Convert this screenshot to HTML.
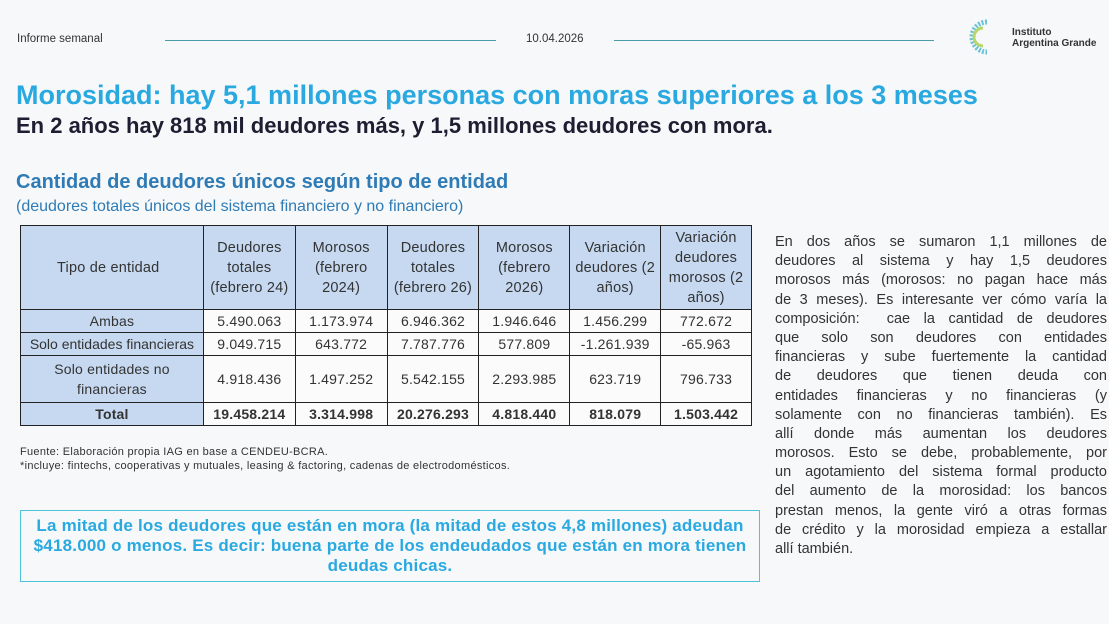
<!DOCTYPE html>
<html><head><meta charset="utf-8"><style>
body{margin:0;width:1109px;height:624px;background:#f7f8fa;font-family:"Liberation Sans",sans-serif;position:relative;overflow:hidden;color:#222}
.a{position:absolute}
table{border-collapse:collapse;position:absolute;left:20px;top:225px;width:732px;font-size:14px;color:#333;letter-spacing:0.2px}
td{border:1.5px solid #222;text-align:center;padding:0;line-height:20px}
.h td{background:#c6d9f1;font-size:14.5px}
td.f{background:#c6d9f1}
.d td{background:#fbfbfb}
.d td.f{background:#c6d9f1}
.p div{text-align:justify;text-align-last:justify;height:19.2px;white-space:nowrap}
</style></head><body>
<div class="a" style="left:17px;top:33px;font-size:11.5px;color:#333">Informe semanal</div>
<div class="a" style="left:165px;top:40px;width:331px;height:1px;background:#4a9aa8"></div>
<div class="a" style="left:526px;top:33px;font-size:11.5px;color:#333">10.04.2026</div>
<div class="a" style="left:614px;top:40px;width:320px;height:1px;background:#4a9aa8"></div>
<svg class="a" style="left:965px;top:18px" width="36" height="38"><path d="M22 4 A15 15 0 1 0 22 34" fill="none" stroke="#6cc3d6" stroke-width="5" stroke-dasharray="2 1.5"/><path d="M18 10 A9 9 0 0 0 18 28" fill="none" stroke="#b8d66a" stroke-width="3"/></svg>
<div class="a" style="left:1012px;top:27px;font-size:10px;line-height:11px;color:#333;font-weight:bold">Instituto<br>Argentina Grande</div>
<div class="a" style="left:16px;top:80px;font-size:27px;font-weight:bold;color:#29a9e0;white-space:nowrap">Morosidad: hay 5,1 millones personas con moras superiores a los 3 meses</div>
<div class="a" style="left:16px;top:113px;font-size:22px;font-weight:bold;color:#1e1e32;white-space:nowrap">En 2 años hay 818 mil deudores más, y 1,5 millones deudores con mora.</div>
<div class="a" style="left:16px;top:171px;font-size:20px;font-weight:bold;color:#2e7bb5;white-space:nowrap">Cantidad de deudores únicos según tipo de entidad</div>
<div class="a" style="left:16px;top:198px;font-size:16px;color:#2e7bb5;white-space:nowrap">(deudores totales únicos del sistema financiero y no financiero)</div>
<table>
<colgroup><col style="width:183px"><col style="width:92px"><col style="width:92px"><col style="width:92px"><col style="width:91px"><col style="width:91px"><col style="width:91px"></colgroup>
<tr class="h" style="height:84px"><td class="f" style="text-align:left;padding-left:36px">Tipo de entidad</td><td>Deudores<br>totales<br>(febrero 24)</td><td>Morosos<br>(febrero<br>2024)</td><td>Deudores<br>totales<br>(febrero 26)</td><td>Morosos<br>(febrero<br>2026)</td><td>Variación<br>deudores (2<br>años)</td><td>Variación<br>deudores<br>morosos (2<br>años)</td></tr>
<tr class="d" style="height:23px"><td class="f">Ambas</td><td>5.490.063</td><td>1.173.974</td><td>6.946.362</td><td>1.946.646</td><td>1.456.299</td><td>772.672</td></tr>
<tr class="d" style="height:23px"><td class="f" style="white-space:nowrap;letter-spacing:0">Solo entidades financieras</td><td>9.049.715</td><td>643.772</td><td>7.787.776</td><td>577.809</td><td>-1.261.939</td><td>-65.963</td></tr>
<tr class="d" style="height:47px"><td class="f">Solo entidades no<br>financieras</td><td>4.918.436</td><td>1.497.252</td><td>5.542.155</td><td>2.293.985</td><td>623.719</td><td>796.733</td></tr>
<tr class="d" style="height:23px;font-weight:bold"><td class="f">Total</td><td>19.458.214</td><td>3.314.998</td><td>20.276.293</td><td>4.818.440</td><td>818.079</td><td>1.503.442</td></tr>
</table>
<div class="a" style="left:20px;top:445px;font-size:11px;line-height:14px;color:#333;white-space:nowrap;letter-spacing:0.3px">Fuente: Elaboración propia IAG en base a CENDEU-BCRA.<br>*incluye: fintechs, cooperativas y mutuales, leasing &amp; factoring, cadenas de electrodomésticos.</div>
<div class="a" style="left:20px;top:510px;width:740px;height:72px;border:1.5px solid #4fc3d9;box-sizing:border-box;color:#29a9e0;font-weight:bold;font-size:17px;line-height:20px;text-align:center;padding-top:5px;white-space:nowrap;letter-spacing:0.2px">La mitad de los deudores que están en mora (la mitad de estos 4,8 millones) adeudan<br>$418.000 o menos. Es decir: buena parte de los endeudados que están en mora tienen<br>deudas chicas.</div>
<div class="a p" style="left:775px;top:233px;width:332px;font-size:14.5px;line-height:19.2px;color:#333">
<div>En dos años se sumaron 1,1 millones de</div>
<div>deudores al sistema y hay 1,5 deudores</div>
<div>morosos más (morosos: no pagan hace más</div>
<div>de 3 meses). Es interesante ver cómo varía la</div>
<div>composición:&nbsp; cae la cantidad de deudores</div>
<div>que solo son deudores con entidades</div>
<div>financieras y sube fuertemente la cantidad</div>
<div>de deudores que tienen deuda con</div>
<div>entidades financieras y no financieras (y</div>
<div>solamente con no financieras también). Es</div>
<div>allí donde más aumentan los deudores</div>
<div>morosos. Esto se debe, probablemente, por</div>
<div>un agotamiento del sistema formal producto</div>
<div>del aumento de la morosidad: los bancos</div>
<div>prestan menos, la gente viró a otras formas</div>
<div>de crédito y la morosidad empieza a estallar</div>
<div style="text-align-last:left">allí también.</div>
</div>
</body></html>
